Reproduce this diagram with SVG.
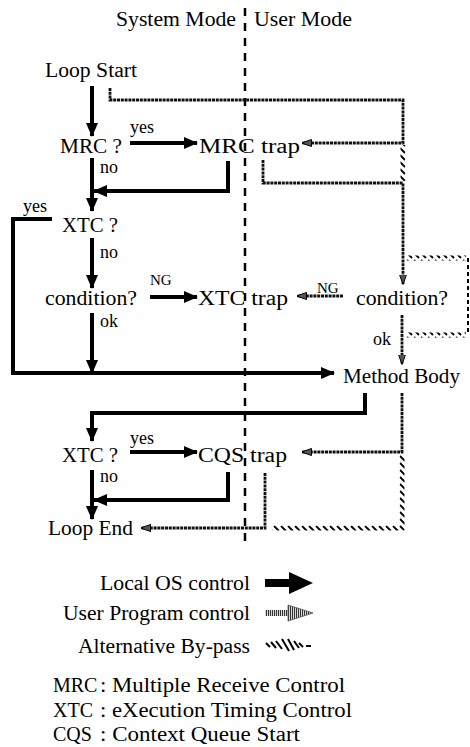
<svg xmlns="http://www.w3.org/2000/svg" width="470" height="747" viewBox="0 0 470 747">
<style>
text{font-family:"Liberation Serif","DejaVu Serif",serif;font-size:20px;fill:#000}
.s{font-size:18px}
.ng{font-size:15px}
.os{fill:none;stroke:#000;stroke-width:4}
.up{fill:none;stroke:#111;stroke-width:2.8;stroke-dasharray:3 0.8}
.bp{fill:none;stroke:url(#hatch);stroke-width:5}
.div{fill:none;stroke:#000;stroke-width:2.5;stroke-dasharray:8 7}
</style>
<defs>
<pattern id="hatch" patternUnits="userSpaceOnUse" width="7" height="7">
<path d="M1,1 L6,6" stroke="#000" stroke-width="1.8"/>
</pattern>
<pattern id="vl" patternUnits="userSpaceOnUse" width="2" height="4">
<rect x="0" y="0" width="1.2" height="4" fill="#333"/>
</pattern>
<marker id="ah" markerUnits="userSpaceOnUse" viewBox="0 0 14 12" refX="13" refY="6" markerWidth="14" markerHeight="12" orient="auto">
<path d="M0,0 L14,6 L0,12 Z" fill="#000"/>
</marker>
<marker id="uh" markerUnits="userSpaceOnUse" viewBox="0 0 10 8" refX="9.5" refY="4" markerWidth="10" markerHeight="8" orient="auto">
<path d="M0,0.5 L10,4 L0,7.5 Z" fill="#555" stroke="#000" stroke-width="1"/>
</marker>
</defs>

<g id="header">
<text x="116" y="26" textLength="120" lengthAdjust="spacingAndGlyphs">System Mode</text>
<text x="254" y="26" textLength="98" lengthAdjust="spacingAndGlyphs">User Mode</text>
<path class="div" d="M245,8 V548"/>
</g>

<g id="connectors">
<!-- Local OS control -->
<path class="os" marker-end="url(#ah)" d="M92,86 V136"/>
<path class="os" marker-end="url(#ah)" d="M130,143 H197"/>
<path class="os" marker-end="url(#ah)" d="M92,158 V211"/>
<path class="os" marker-end="url(#ah)" d="M228,161 V191 H94"/>
<path class="os" marker-end="url(#ah)" d="M52,219 H13 V373 H334"/>
<path class="os" marker-end="url(#ah)" d="M92,238 V288"/>
<path class="os" marker-end="url(#ah)" d="M150,297 H197"/>
<path class="os" marker-end="url(#ah)" d="M92,313 V373"/>
<path class="os" marker-end="url(#ah)" d="M365,393 V413 H92 V441"/>
<path class="os" marker-end="url(#ah)" d="M130,452 H197"/>
<path class="os" marker-end="url(#ah)" d="M228,472 V500 H94"/>
<path class="os" marker-end="url(#ah)" d="M92,470 V519"/>
<!-- User Program control -->
<path class="up" marker-end="url(#uh)" d="M110,88 V100 H403 V143 H302"/>
<path class="up" marker-end="url(#uh)" d="M263,160 V183 H403 V284"/>
<path class="up" marker-end="url(#uh)" d="M343,296 H297"/>
<path class="up" marker-end="url(#uh)" d="M402,315 V364"/>
<path class="up" marker-end="url(#uh)" d="M402,393 V452 H302"/>
<path class="up" marker-end="url(#uh)" d="M265,473 V528 H141"/>
<!-- Alternative By-pass -->
<path class="bp" d="M403,145 V181"/>
<path class="bp" d="M406,258 H466"/>
<path fill="none" stroke="#000" stroke-width="2" stroke-dasharray="4 3" d="M468,258 V335"/>
<path class="bp" d="M466,335 H406"/>
<path class="bp" d="M402,455 V528 H272"/>
</g>

<g id="loop-start"><text x="45" y="77" textLength="92" lengthAdjust="spacingAndGlyphs">Loop Start</text></g>
<g id="mrc-q"><text x="60" y="153" textLength="62" lengthAdjust="spacingAndGlyphs">MRC ?</text>
<text class="s" x="130" y="133">yes</text><text class="s" x="100" y="173">no</text></g>
<g id="mrc-trap"><text x="199" y="153" textLength="101" lengthAdjust="spacingAndGlyphs">MRC trap</text></g>
<g id="xtc-q1"><text x="62" y="232" textLength="56" lengthAdjust="spacingAndGlyphs">XTC ?</text>
<text class="s" x="23" y="212">yes</text><text class="s" x="100" y="258">no</text></g>
<g id="cond-l"><text x="45" y="305" textLength="92" lengthAdjust="spacingAndGlyphs">condition?</text>
<text class="ng" x="150" y="285">NG</text><text class="s" x="100" y="327">ok</text></g>
<g id="xtc-trap"><text x="198" y="305" textLength="90" lengthAdjust="spacingAndGlyphs">XTC trap</text></g>
<g id="cond-r"><text x="356" y="305" textLength="92" lengthAdjust="spacingAndGlyphs">condition?</text>
<text class="ng" x="317" y="293">NG</text><text class="s" x="373" y="345">ok</text></g>
<g id="method-body"><text x="343" y="383" textLength="117" lengthAdjust="spacingAndGlyphs">Method Body</text></g>
<g id="xtc-q2"><text x="62" y="462" textLength="56" lengthAdjust="spacingAndGlyphs">XTC ?</text>
<text class="s" x="130" y="444">yes</text><text class="s" x="100" y="482">no</text></g>
<g id="cqs-trap"><text x="198" y="462" textLength="89" lengthAdjust="spacingAndGlyphs">CQS trap</text></g>
<g id="loop-end"><text x="48" y="535" textLength="85" lengthAdjust="spacingAndGlyphs">Loop End</text></g>

<g id="legend">
<text x="250" y="590" text-anchor="end" textLength="150" lengthAdjust="spacingAndGlyphs">Local OS control</text>
<rect x="265" y="579" width="26" height="8" fill="#000"/>
<path d="M289,572 L313,583 L289,594 Z" fill="#000"/>
<text x="250" y="620" text-anchor="end" textLength="187" lengthAdjust="spacingAndGlyphs">User Program control</text>
<rect x="265" y="610" width="24" height="6" fill="url(#vl)"/>
<path d="M288,605 L313,613 L288,621 Z" fill="url(#vl)" stroke="#555" stroke-width="0.8"/>
<text x="250" y="653" text-anchor="end" textLength="172" lengthAdjust="spacingAndGlyphs">Alternative By-pass</text>
<g stroke="#000" stroke-width="2" fill="none">
<path d="M266,643 L270,647 M271,642 L276,648 M276,641 L282,649 M282,639 L289,651 M288,639 L294,650 M294,641 L299,648 M299,643 L303,647 M306,646 H311"/>
</g>
<text x="53" y="692">MRC</text><text x="100" y="692" textLength="245" lengthAdjust="spacingAndGlyphs">: Multiple Receive Control</text>
<text x="53" y="717">XTC</text><text x="100" y="717" textLength="252" lengthAdjust="spacingAndGlyphs">: eXecution Timing Control</text>
<text x="53" y="741">CQS</text><text x="100" y="741" textLength="200" lengthAdjust="spacingAndGlyphs">: Context Queue Start</text>
</g>
</svg>
